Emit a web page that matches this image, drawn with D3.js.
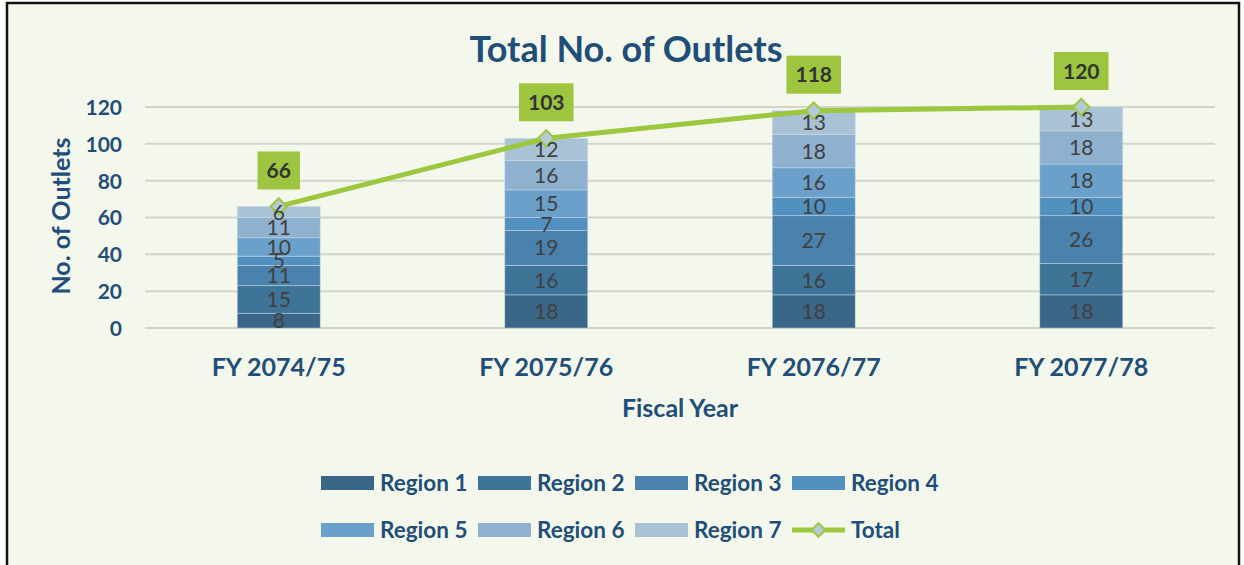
<!DOCTYPE html>
<html><head><meta charset="utf-8">
<script src="https://cdn.jsdelivr.net/npm/d3@7"></script>
<style>body{margin:0;background:#fff}svg{display:block}</style>
</head><body>
<svg id="c" width="1244" height="565"></svg>
<script>
const years = ["FY 2074/75","FY 2075/76","FY 2076/77","FY 2077/78"];
const regions = ["Region 1","Region 2","Region 3","Region 4","Region 5","Region 6","Region 7"];
const region1 = [8,18,18,18];
const region2 = [15,16,16,17];
const region3 = [11,19,27,26];
const region4 = [5,7,10,10];
const region5 = [10,15,16,18];
const region6 = [11,16,18,18];
const region7 = [6,12,13,13];
const totals = [66,103,118,120];
const yTicks = [0,20,40,60,80,100,120];
const colors = ["#3a6687","#3f7499","#4a81ad","#5190bf","#6aa0c9","#8fb1d0","#aac2d5"];
const series = [region1,region2,region3,region4,region5,region6,region7];

const font = "Lato, 'Open Sans', sans-serif";
const svg = d3.select("#c");
svg.append("rect").attr("x",7).attr("y",3).attr("width",1232).attr("height",570)
  .attr("fill","#f4f8ec").attr("stroke","#111").attr("stroke-width",2.5);

const x = d3.scaleBand().domain(years).range([145,1215]).paddingInner(0.69).paddingOuter(0.345);
const y = d3.scaleLinear().domain([0,120]).range([328,107]);

// gridlines
svg.append("g").selectAll("line").data(yTicks).join("line")
  .attr("x1",145).attr("x2",1215).attr("y1",d=>y(d)).attr("y2",d=>y(d))
  .attr("stroke","#d2d4c8").attr("stroke-width",2);

// y axis labels
const yAxis = svg.append("g").attr("transform","translate(122,0)")
  .call(d3.axisLeft(y).tickValues(yTicks).tickSize(0).tickPadding(0));
yAxis.select(".domain").remove();
yAxis.selectAll("text").attr("font-family",font).attr("font-weight","bold").attr("font-size",21)
  .attr("fill","#1f4e79").attr("dy","0.35em");

// stacked data
const table = years.map((yr,i)=>{const o={year:yr}; regions.forEach((r,j)=>o[r]=series[j][i]); return o;});
const stack = d3.stack().keys(regions)(table);
const g = svg.append("g");
stack.forEach((layer,j)=>{
  g.append("g").selectAll("rect").data(layer).join("rect")
    .attr("x",d=>x(d.data.year)).attr("width",x.bandwidth())
    .attr("y",d=>y(d[1])).attr("height",d=>y(d[0])-y(d[1]))
    .attr("fill",colors[j]).attr("stroke","#c9d9e6").attr("stroke-width",0.8).attr("stroke-opacity",0.6);
});

// total line
const cx = d=>x(d)+x.bandwidth()/2;
const line = d3.line().x((d,i)=>cx(years[i])).y(d=>y(d));
svg.append("path").datum(totals).attr("d",line).attr("fill","none")
  .attr("stroke","#9dc73f").attr("stroke-width",5);
const diamond = d3.symbol().type(d3.symbolDiamond2).size(170);
svg.append("g").selectAll("path").data(totals).join("path")
  .attr("d",diamond).attr("transform",(d,i)=>`translate(${cx(years[i])},${y(d)})`)
  .attr("fill","#b4cad6").attr("stroke","#9dc73f").attr("stroke-width",2);

// segment labels (on top)
const gl = svg.append("g");
stack.forEach((layer,j)=>{
  gl.append("g").selectAll("text").data(layer).join("text")
    .attr("x",d=>x(d.data.year)+x.bandwidth()/2).attr("y",d=>(y(d[0])+y(d[1]))/2)
    .attr("dy","0.36em").attr("text-anchor","middle")
    .attr("font-family",font).attr("font-size",21).attr("fill","#404040")
    .text(d=>d[1]-d[0]);
});

// total labels
const lg = svg.append("g").selectAll("g").data(totals).join("g")
  .attr("transform",(d,i)=>`translate(${cx(years[i])},${y(d)-36})`);
lg.append("text").attr("text-anchor","middle").attr("dy","0.36em")
  .attr("font-family",font).attr("font-weight","bold").attr("font-size",21).attr("fill","#333")
  .text(d=>d);
lg.each(function(){
  const t=d3.select(this).select("text"); const w=t.node().getBBox().width;
  d3.select(this).insert("rect","text").attr("x",-w/2-9).attr("y",-19).attr("width",w+18).attr("height",38).attr("fill","#9dc53f");
});

// x labels
svg.append("g").selectAll("text").data(years).join("text")
  .attr("x",d=>cx(d)).attr("y",376).attr("text-anchor","middle")
  .attr("font-family",font).attr("font-weight","bold").attr("font-size",25).attr("fill","#1f4e79").text(d=>d);

// titles
svg.append("text").attr("x",626).attr("y",62).attr("text-anchor","middle")
  .attr("font-family",font).attr("font-weight","bold").attr("font-size",36).attr("fill","#1f4e79").text("Total No. of Outlets");
svg.append("text").attr("x",680).attr("y",417).attr("text-anchor","middle")
  .attr("font-family",font).attr("font-weight","bold").attr("font-size",25).attr("fill","#1f4e79").text("Fiscal Year");
svg.append("text").attr("transform","translate(70,216) rotate(-90)").attr("text-anchor","middle")
  .attr("font-family",font).attr("font-weight","bold").attr("font-size",25).attr("fill","#1f4e79").text("No. of Outlets");

// legend
const legendItems = regions.map((r,i)=>({name:r,color:colors[i],type:"bar"})).concat([{name:"Total",color:"#9dc73f",type:"line"}]);
const leg = svg.append("g").selectAll("g").data(legendItems).join("g")
  .attr("transform",(d,i)=>`translate(${321+(i%4)*157},${i<4?483:530})`);
leg.filter(d=>d.type==="bar").append("rect").attr("x",0).attr("y",-7).attr("width",53).attr("height",14).attr("fill",d=>d.color);
const ll = leg.filter(d=>d.type==="line");
ll.append("line").attr("x1",0).attr("x2",53).attr("y1",0).attr("y2",0).attr("stroke","#9dc73f").attr("stroke-width",5);
ll.append("path").attr("d",d3.symbol().type(d3.symbolDiamond2).size(120)).attr("transform","translate(26.5,0)")
  .attr("fill","#b4cad6").attr("stroke","#9dc73f").attr("stroke-width",2);
leg.append("text").attr("x",59).attr("dy","0.36em").attr("font-family",font).attr("font-weight","bold")
  .attr("font-size",22.5).attr("fill","#1f4e79").text(d=>d.name);
</script>
</body></html>
